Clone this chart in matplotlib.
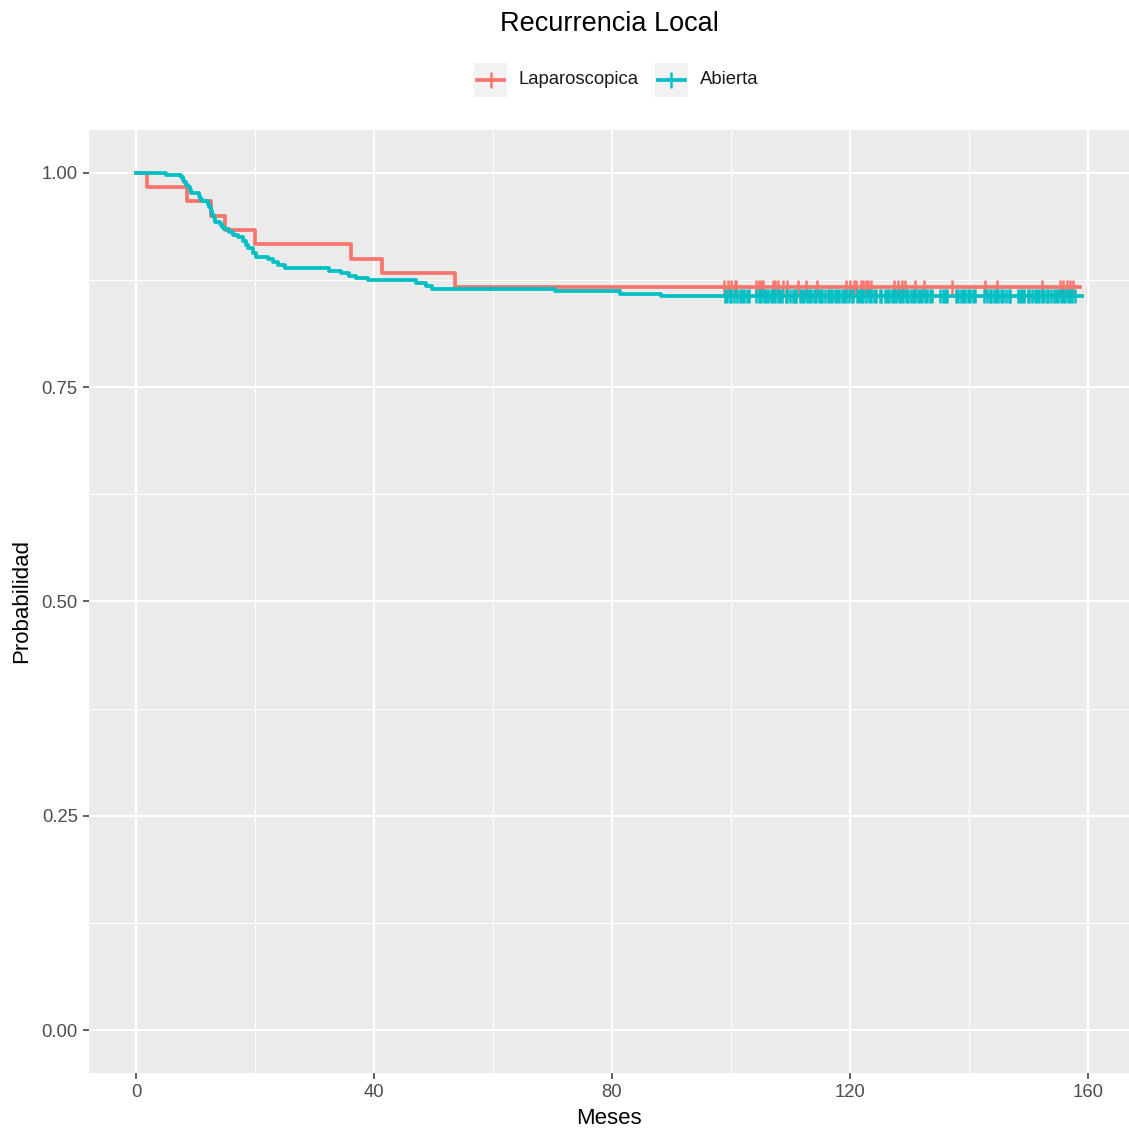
import numpy as np
import matplotlib
matplotlib.use("Agg")
import matplotlib.pyplot as plt
from matplotlib.patches import Rectangle
from matplotlib.lines import Line2D

plt.rcParams['font.family'] = ['Liberation Sans', 'DejaVu Sans']

# Kaplan-Meier steps
lap_t = [0, 1.85, 8.6, 12.5, 15.0, 19.9, 36.1, 41.3, 53.6, 158.7]
lap_s = [1.0, 0.983, 0.967, 0.950, 0.933, 0.917, 0.900, 0.883, 0.867, 0.867]
lap_cens = [98.9, 99.5, 100.1, 100.7, 100.9, 104.3, 104.7, 105.0, 105.4, 107.1,
            107.5, 108.0, 108.8, 109.4, 111.3, 112.7, 114.4, 119.4, 120.0, 120.7,
            121.1, 121.9, 122.3, 122.8, 123.1, 123.5, 127.5, 128.1, 128.7, 129.3,
            130.9, 132.4, 137.2, 142.8, 144.7, 152.3, 155.3, 155.9, 156.5, 157.0,
            157.6]

abi_t = [0, 5.0, 7.5, 7.8, 8.1, 8.4, 8.7, 9.0, 9.2, 10.6, 10.8, 11.0, 12.0, 12.3,
         12.5, 12.8, 13.0, 13.3, 14.1, 14.4, 14.8, 15.6, 16.3, 17.1, 17.9, 18.4,
         18.8, 19.6, 20.2, 22.2, 23.0, 23.8, 25.0, 32.5, 34.5, 35.7, 37.0, 39.0,
         47.1, 48.8, 49.8, 70.4, 81.3, 88.3, 159.0]
abi_s = [1.0, 0.9977, 0.995, 0.992, 0.989, 0.986, 0.983, 0.980, 0.976, 0.973,
         0.970, 0.967, 0.964, 0.960, 0.956, 0.951, 0.947, 0.943, 0.940, 0.937,
         0.934, 0.931, 0.928, 0.925, 0.920, 0.916, 0.912, 0.906, 0.902, 0.899,
         0.896, 0.893, 0.889, 0.886, 0.883, 0.880, 0.877, 0.875, 0.872, 0.868,
         0.865, 0.862, 0.859, 0.8566, 0.8566]
abi_cens = [99.0, 99.3, 99.8, 100.1, 100.6, 101.0, 101.5, 101.8, 102.2, 102.7,
            103.0, 104.2, 104.7, 105.0, 105.6, 105.9, 106.3, 106.8, 107.1, 107.4,
            108.0, 108.3, 108.6, 109.2, 109.5, 109.9, 110.4, 110.7, 111.0, 111.6,
            111.9, 112.3, 112.8, 113.1, 113.4, 114.0, 114.3, 114.8, 115.1, 115.4,
            115.9, 116.3, 116.7, 117.0, 117.5, 117.9, 118.2, 118.7, 119.1, 119.4,
            119.9, 120.3, 120.6, 121.2, 121.5, 121.8, 122.3, 122.7, 123.2, 123.5,
            124.1, 124.4, 125.0, 125.3, 125.9, 126.2, 126.6, 127.1, 127.4, 127.8,
            128.3, 128.6, 129.0, 129.5, 129.8, 130.3, 130.6, 131.0, 131.5, 131.8,
            132.2, 132.7, 133.0, 133.5, 133.8, 135.2, 135.7, 136.0, 136.4, 137.9,
            138.2, 138.7, 139.0, 139.3, 139.9, 140.2, 140.7, 141.0, 142.6, 143.0,
            143.5, 143.8, 144.3, 144.6, 145.0, 145.5, 145.8, 146.2, 146.7, 147.0,
            148.2, 148.7, 149.0, 149.3, 149.9, 150.2, 150.6, 151.1, 151.4, 151.8,
            152.3, 152.6, 153.1, 153.4, 153.8, 154.3, 154.6, 155.0, 155.5, 155.8,
            156.2, 156.7, 157.0, 157.4, 157.8]

groups = ["Laparoscopica", "Abierta"]
colors = ["#F8766D", "#00BFC4"]
xticks = [0, 40, 80, 120, 160]
yticks = [0.00, 0.25, 0.50, 0.75, 1.00]

fig = plt.figure(figsize=(11.29, 11.29), dpi=100)
ax = fig.add_axes([0.0788, 0.0496, 0.9212, 0.8353])
ax.set_facecolor("#EBEBEB")

curves = [(lap_t, lap_s, lap_cens), (abi_t, abi_s, abi_cens)]
for (t, s, c), col in zip(curves, colors):
    ax.step(t, s, where="post", color=col, lw=2.7, zorder=3)
for (t, s, c), col in zip(curves, colors):
    idx = np.searchsorted(t, c, side="right") - 1
    cs = np.array(s)[idx]
    ax.plot(c, cs, ls="none", marker="|", ms=9.5, mew=1.8, color=col, zorder=4)

ax.set_xlim(-7.95, 166.95)
ax.set_ylim(-0.05, 1.05)
ax.set_xticks(xticks)
ax.set_yticks(yticks)
ax.set_yticklabels(["%.2f" % v for v in yticks])
ax.set_xticks([20, 60, 100, 140], minor=True)
ax.set_yticks([0.125, 0.375, 0.625, 0.875], minor=True)
ax.grid(which="major", color="white", lw=1.5)
ax.grid(which="minor", color="white", lw=0.7)
ax.set_axisbelow(True)
for sp in ax.spines.values():
    sp.set_visible(False)
ax.tick_params(which="major", length=4, width=1.1, color="#333333",
               labelsize=13.3, labelcolor="#4D4D4D", pad=4)
ax.tick_params(which="minor", length=0)

ax.set_xlabel("Meses", fontsize=16, labelpad=5)
ax.set_ylabel("Probabilidad", fontsize=16, labelpad=7)
fig.text(0.540, 0.9787, "Recurrencia Local", fontsize=19.5, ha="center", va="center")

# legend drawn by hand: grey key boxes with line + cross
W = 1129.0
keys = [(474, 519), (655, 700)]
for (kx, lx), col, lab in zip(keys, colors, groups):
    fig.add_artist(Rectangle((kx / W, 1 - 97 / W), 33 / W, 34 / W,
                             transform=fig.transFigure, facecolor="#F2F2F2",
                             edgecolor="none"))
    fig.add_artist(Line2D([(kx + 3) / W, (kx + 30) / W], [1 - 80 / W, 1 - 80 / W],
                          transform=fig.transFigure, color=col, lw=2.7))
    fig.add_artist(Line2D([(kx + 16.5) / W], [1 - 80 / W], transform=fig.transFigure,
                          marker="|", ms=12, mew=1.8, color=col))
    fig.text(lx / W, 1 - 80 / W, lab, fontsize=13.3, color="#1A1A1A",
             ha="left", va="center")

fig.savefig("out.png", dpi=100)
